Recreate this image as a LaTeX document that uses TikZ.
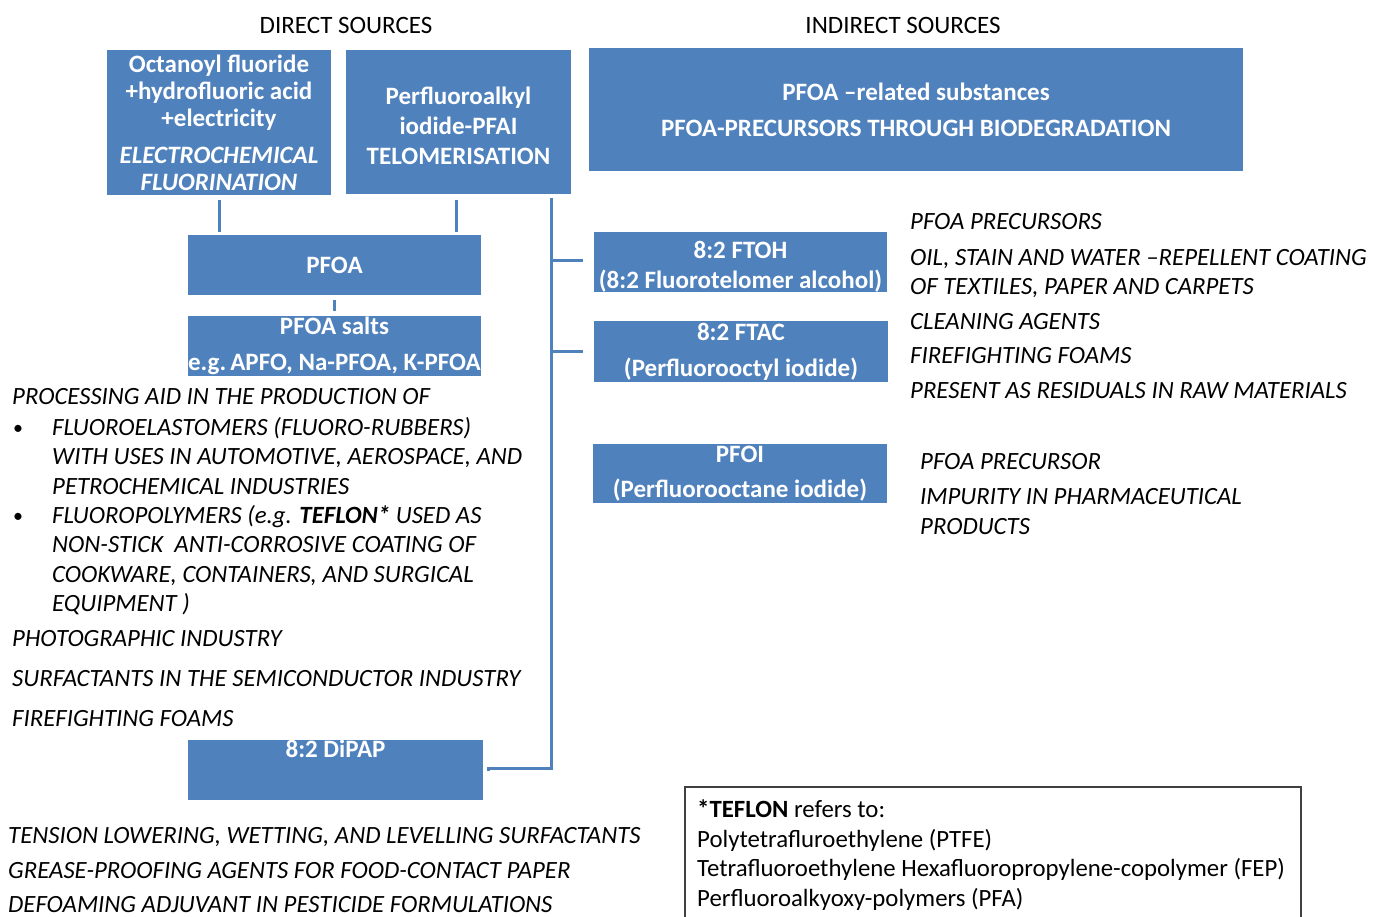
\documentclass[tikz,border=0pt]{standalone}
\usepackage{fontspec}
\setmainfont{Carlito}
\definecolor{boxblue}{HTML}{4F81BD}
\definecolor{frame}{HTML}{404040}
\begin{document}
\begin{tikzpicture}[x=1pt,y=-1pt,
  box/.style={fill=boxblue, draw=none, text=white, align=center, inner sep=0pt,
    font=\fontsize{25}{27}\selectfont\bfseries},
  boxtxt/.style={text=white, align=center, inner sep=0pt},
  conn/.style={draw=boxblue, line width=3pt},
  lt/.style={anchor=base west, inner sep=0pt, font=\fontsize{24.8}{28}\selectfont\itshape},
  hd/.style={anchor=base, inner sep=0pt, font=\fontsize{25}{28}\selectfont},
  nt/.style={anchor=base west, inner sep=0pt, font=\fontsize{24.8}{28}\selectfont}]
\useasboundingbox (0,0) rectangle (1379,916);
\fill[white] (0,0) rectangle (1379,916);

% headers
\node[hd] (hdirect) at (346,33) {DIRECT SOURCES};
\node[hd] (hindirect) at (903,33) {INDIRECT SOURCES};

% boxes
\node[box, minimum width=224pt, minimum height=145pt] (oct) at (219,122.5)
  {Octanoyl fluoride\\ +hydrofluoric acid\\ +electricity\\[10pt] \itshape ELECTROCHEMICAL\\ \itshape FLUORINATION};
\node[box, minimum width=225pt, minimum height=144pt] (perf) at (458.5,122) {};
\node[boxtxt, font=\fontsize{25}{30}\selectfont\bfseries] (perftxt) at ([yshift=-4pt]perf.center)
  {Perfluoroalkyl\\ iodide-PFAI\\ TELOMERISATION};
\node[box, minimum width=654pt, minimum height=123pt, font=\fontsize{25}{36}\selectfont\bfseries] (rel) at (916,109.5)
  {PFOA --related substances\\ PFOA-PRECURSORS THROUGH BIODEGRADATION};
\node[box, minimum width=293pt, minimum height=60pt] (pfoa) at (334.5,265) {PFOA};
\node[box, minimum width=293pt, minimum height=60pt] (salts) at (334.5,346) {};
\node[boxtxt, font=\fontsize{25}{36}\selectfont\bfseries] (saltstxt) at (salts.center)
  {PFOA salts\\ e.g.\,APFO, Na-PFOA, K-PFOA};
\node[box, minimum width=293pt, minimum height=60pt] (ftoh) at (740.5,261.5) {};
\node[boxtxt, font=\fontsize{25}{30}\selectfont\bfseries] (ftohtxt) at ([yshift=-5pt]ftoh.center)
  {8:2 FTOH\\ (8:2 Fluorotelomer alcohol)};
\node[box, minimum width=294pt, minimum height=61pt, font=\fontsize{25}{36}\selectfont\bfseries] (ftac) at (741,351.5)
  {8:2 FTAC\\ (Perfluorooctyl iodide)};
\node[box, minimum width=294pt, minimum height=59pt, font=\fontsize{25}{35}\selectfont\bfseries] (pfoi) at (740,473.5)
  {PFOI\\ (Perfluorooctane iodide)};
\node[box, minimum width=295pt, minimum height=60pt] (dipap) at (335.5,770) {};
\node[boxtxt, anchor=base, font=\fontsize{25}{30}\selectfont\bfseries] (dipaplbl) at (335.5,757) {8:2 DiPAP};

% connectors
\draw[conn, shorten <=5pt, shorten >=3pt] (oct.south) -- (oct.south |- pfoa.north);
\draw[conn, shorten <=6pt, shorten >=3pt] ([xshift=-2.5pt]perf.south) -- ([xshift=-2.5pt]perf.south |- pfoa.north);
\draw[conn, shorten <=5pt, shorten >=5pt] (pfoa.south) -- (salts.north);
\coordinate (trunk) at ([xshift=-20pt,yshift=-4pt]perf.south east);
\coordinate (trunkend) at ([yshift=2pt]trunk |- dipap.east);
\draw[conn, shorten >=11pt] ([yshift=1.5pt]trunk |- ftoh.west) -- ([yshift=1.5pt]ftoh.west);
\draw[conn, shorten >=11pt] (trunk |- ftac.west) -- (ftac.west);
\draw[conn, line join=miter] (trunk) -- (trunkend) -- ([xshift=5pt]trunkend -| dipap.east) -- ++(0,3);

% right-hand texts
\node[lt] (r1) at (910,229) {PFOA PRECURSORS};
\node[lt] (r2) at (910,265) {OIL, STAIN AND WATER --REPELLENT COATING};
\node[lt] (r3) at (910,294) {OF TEXTILES, PAPER AND CARPETS};
\node[lt] (r4) at (910,329) {CLEANING AGENTS};
\node[lt] (r5) at (910,363) {FIREFIGHTING FOAMS};
\node[lt] (r6) at (910,398) {PRESENT AS RESIDUALS IN RAW MATERIALS};
\node[lt] (r7) at (920,469) {PFOA PRECURSOR};
\node[lt] (r8) at (920,504) {IMPURITY IN PHARMACEUTICAL};
\node[lt] (r9) at (920,534) {PRODUCTS};

% left texts
\node[lt] (l1) at (12,404) {PROCESSING AID IN THE PRODUCTION OF};
\node[nt, font=\fontsize{20}{24}\selectfont] (b1) at (13,434) {\textbullet};
\node[lt] (l2) at (52,435) {FLUOROELASTOMERS (FLUORO-RUBBERS)};
\node[lt] (l3) at (52,464) {WITH USES IN AUTOMOTIVE, AEROSPACE, AND};
\node[lt] (l4) at (52,494) {PETROCHEMICAL INDUSTRIES};
\node[nt, font=\fontsize{20}{24}\selectfont] (b2) at (13,522) {\textbullet};
\node[lt] (l5) at (52,523) {FLUOROPOLYMERS (e.g. {\bfseries TEFLON*} USED AS};
\node[lt] (l6) at (52,552) {NON-STICK\ \ ANTI-CORROSIVE COATING OF};
\node[lt] (l7) at (52,582) {COOKWARE, CONTAINERS, AND SURGICAL};
\node[lt] (l8) at (52,611) {EQUIPMENT )};
\node[lt] (l9) at (12,646) {PHOTOGRAPHIC INDUSTRY};
\node[lt] (l10) at (12,686) {SURFACTANTS IN THE SEMICONDUCTOR INDUSTRY};
\node[lt] (l11) at (12,726) {FIREFIGHTING FOAMS};
\node[lt] (l12) at (8,843) {TENSION LOWERING, WETTING, AND LEVELLING SURFACTANTS};
\node[lt] (l13) at (8,878) {GREASE-PROOFING AGENTS FOR FOOD-CONTACT PAPER};
\node[lt] (l14) at (8,912) {DEFOAMING ADJUVANT IN PESTICIDE FORMULATIONS};

% teflon note
\draw[frame, line width=1.3pt] (685,920) -- (685,787) -- (1301,787) -- (1301,920);
\node[nt] (t1) at (697,817) {{\bfseries *TEFLON} refers to:};
\node[nt] (t2) at (697,847) {Polytetrafluroethylene (PTFE)};
\node[nt] (t3) at (697,876) {Tetrafluoroethylene Hexafluoropropylene-copolymer (FEP)};
\node[nt] (t4) at (697,906) {Perfluoroalkyoxy-polymers (PFA)};
\end{tikzpicture}
\end{document}
